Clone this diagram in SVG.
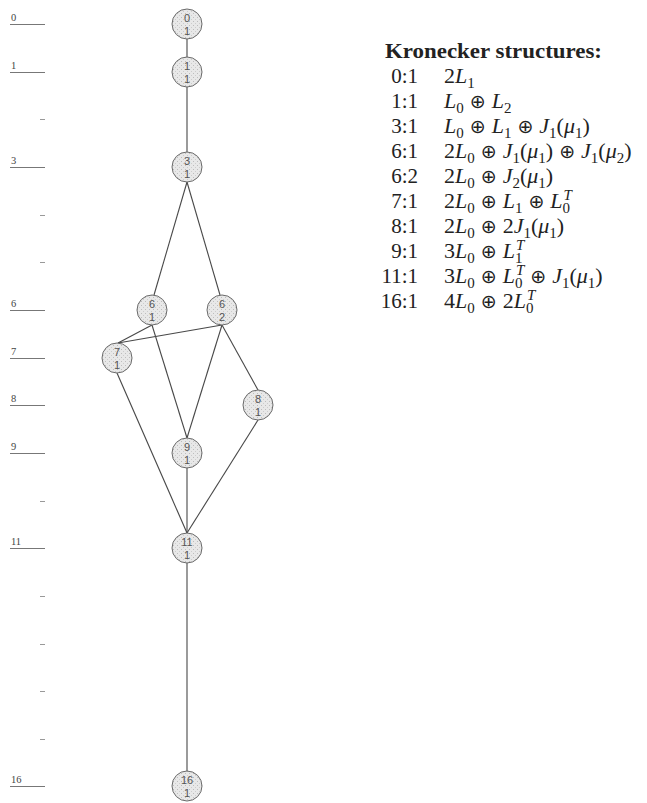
<svg xmlns="http://www.w3.org/2000/svg" width="647" height="803" viewBox="0 0 647 803">
<defs>
<pattern id="stip" width="4" height="4" patternUnits="userSpaceOnUse">
<rect width="4" height="4" fill="#e8e8e8"/>
<rect x="1" y="1" width="1" height="1" fill="#bdbdbd"/>
<rect x="3" y="3" width="1" height="1" fill="#cccccc"/>
</pattern>
<style>
.nd circle{fill:url(#stip);stroke:#6a6a6a;stroke-width:1}
.nd text{font-family:"Liberation Sans",Arial,sans-serif;font-size:11px;fill:#555;text-anchor:middle}
.lv text{font-family:"Liberation Serif","Times New Roman",serif;font-size:10.5px;fill:#444}
.lv line{stroke:#777;stroke-width:1}
.tk line{stroke:#999;stroke-width:1}
.edges line{stroke:#484848;stroke-width:1.1}
.lg{font-family:"Liberation Serif","Times New Roman",serif;fill:#222}
.lg .t{font-weight:bold;font-size:21px}
.lg .k{text-anchor:end;font-size:21px}
.lg .f{font-size:22px}
.i{font-style:italic}
.s{font-size:15px}
.o{font-family:"DejaVu Sans",sans-serif;font-size:19px}
</style>
</defs>
<rect width="647" height="803" fill="#fff"/>
<g id="levels" class="lv">
<text x="11" y="21">0</text><line x1="10" y1="24.5" x2="45" y2="24.5"/>
<text x="11" y="69">1</text><line x1="10" y1="72.5" x2="45" y2="72.5"/>
<text x="11" y="164">3</text><line x1="10" y1="167.5" x2="45" y2="167.5"/>
<text x="11" y="307">6</text><line x1="10" y1="310.5" x2="45" y2="310.5"/>
<text x="11" y="355">7</text><line x1="10" y1="358.5" x2="45" y2="358.5"/>
<text x="11" y="402">8</text><line x1="10" y1="405.5" x2="45" y2="405.5"/>
<text x="11" y="450">9</text><line x1="10" y1="453.5" x2="45" y2="453.5"/>
<text x="11" y="545">11</text><line x1="10" y1="548.5" x2="45" y2="548.5"/>
<text x="11" y="783">16</text><line x1="10" y1="786.5" x2="45" y2="786.5"/>
</g>
<g id="ticks" class="tk">
<line x1="40" y1="119.5" x2="45" y2="119.5"/>
<line x1="40" y1="215.5" x2="45" y2="215.5"/>
<line x1="40" y1="262.5" x2="45" y2="262.5"/>
<line x1="40" y1="501.5" x2="45" y2="501.5"/>
<line x1="40" y1="596.5" x2="45" y2="596.5"/>
<line x1="40" y1="644.5" x2="45" y2="644.5"/>
<line x1="40" y1="691.5" x2="45" y2="691.5"/>
<line x1="40" y1="739.5" x2="45" y2="739.5"/>
</g>
<g id="connectors" class="edges">
<line x1="187" y1="39" x2="187" y2="57"/>
<line x1="187" y1="87" x2="187" y2="152"/>
<line x1="187" y1="182" x2="154" y2="295"/>
<line x1="187" y1="182" x2="220" y2="295"/>
<line x1="152" y1="325" x2="118" y2="343"/>
<line x1="222" y1="325" x2="118" y2="343"/>
<line x1="152" y1="325" x2="187" y2="438"/>
<line x1="222" y1="325" x2="187" y2="438"/>
<line x1="222" y1="325" x2="258" y2="390"/>
<line x1="117" y1="373" x2="187" y2="533"/>
<line x1="187" y1="468" x2="187" y2="533"/>
<line x1="258" y1="420" x2="187" y2="533"/>
<line x1="187" y1="563" x2="187" y2="771"/>
</g>
<g id="n0_1" class="nd"><circle cx="187" cy="24" r="15"/><text x="187" y="21.5">0</text><text x="187" y="34.5">1</text></g>
<g id="n1_1" class="nd"><circle cx="187" cy="72" r="15"/><text x="187" y="69.5">1</text><text x="187" y="82.5">1</text></g>
<g id="n3_1" class="nd"><circle cx="187" cy="167" r="15"/><text x="187" y="164.5">3</text><text x="187" y="177.5">1</text></g>
<g id="n6_1" class="nd"><circle cx="152" cy="310" r="15"/><text x="152" y="307.5">6</text><text x="152" y="320.5">1</text></g>
<g id="n6_2" class="nd"><circle cx="222" cy="310" r="15"/><text x="222" y="307.5">6</text><text x="222" y="320.5">2</text></g>
<g id="n7_1" class="nd"><circle cx="117" cy="358" r="15"/><text x="117" y="355.5">7</text><text x="117" y="368.5">1</text></g>
<g id="n8_1" class="nd"><circle cx="258" cy="405" r="15"/><text x="258" y="402.5">8</text><text x="258" y="415.5">1</text></g>
<g id="n9_1" class="nd"><circle cx="187" cy="453" r="15"/><text x="187" y="450.5">9</text><text x="187" y="463.5">1</text></g>
<g id="n11_1" class="nd"><circle cx="187" cy="548" r="15"/><text x="187" y="545.5">11</text><text x="187" y="558.5">1</text></g>
<g id="n16_1" class="nd"><circle cx="187" cy="786" r="15"/><text x="187" y="783.5">16</text><text x="187" y="796.5">1</text></g>
<g id="legend" class="lg">
<text class="t" x="385" y="58" textLength="217" lengthAdjust="spacingAndGlyphs">Kronecker structures:</text>
<text class="k" x="418" y="83">0:1</text>
<text class="f" x="444" y="83">2<tspan class="i">L</tspan><tspan class="s" dy="4.5">1</tspan></text>
<text class="k" x="418" y="108">1:1</text>
<text class="f" x="444" y="108"><tspan class="i">L</tspan><tspan class="s" dy="4.5">0</tspan><tspan class="o" dx="6" dy="-4.5">⊕</tspan><tspan class="i" dx="6">L</tspan><tspan class="s" dy="4.5">2</tspan></text>
<text class="k" x="418" y="133">3:1</text>
<text class="f" x="444" y="133"><tspan class="i">L</tspan><tspan class="s" dy="4.5">0</tspan><tspan class="o" dx="6" dy="-4.5">⊕</tspan><tspan class="i" dx="6">L</tspan><tspan class="s" dy="4.5">1</tspan><tspan class="o" dx="6" dy="-4.5">⊕</tspan><tspan class="i" dx="6">J</tspan><tspan class="s" dy="4.5">1</tspan><tspan dy="-4.5">(</tspan><tspan class="i">μ</tspan><tspan class="s" dy="4.5">1</tspan><tspan dy="-4.5">)</tspan></text>
<text class="k" x="418" y="158">6:1</text>
<text class="f" x="444" y="158">2<tspan class="i">L</tspan><tspan class="s" dy="4.5">0</tspan><tspan class="o" dx="6" dy="-4.5">⊕</tspan><tspan class="i" dx="6">J</tspan><tspan class="s" dy="4.5">1</tspan><tspan dy="-4.5">(</tspan><tspan class="i">μ</tspan><tspan class="s" dy="4.5">1</tspan><tspan dy="-4.5">)</tspan><tspan class="o" dx="6">⊕</tspan><tspan class="i" dx="6">J</tspan><tspan class="s" dy="4.5">1</tspan><tspan dy="-4.5">(</tspan><tspan class="i">μ</tspan><tspan class="s" dy="4.5">2</tspan><tspan dy="-4.5">)</tspan></text>
<text class="k" x="418" y="183">6:2</text>
<text class="f" x="444" y="183">2<tspan class="i">L</tspan><tspan class="s" dy="4.5">0</tspan><tspan class="o" dx="6" dy="-4.5">⊕</tspan><tspan class="i" dx="6">J</tspan><tspan class="s" dy="4.5">2</tspan><tspan dy="-4.5">(</tspan><tspan class="i">μ</tspan><tspan class="s" dy="4.5">1</tspan><tspan dy="-4.5">)</tspan></text>
<text class="k" x="418" y="208">7:1</text>
<text class="f" x="444" y="208">2<tspan class="i">L</tspan><tspan class="s" dy="4.5">0</tspan><tspan class="o" dx="6" dy="-4.5">⊕</tspan><tspan class="i" dx="6">L</tspan><tspan class="s" dy="4.5">1</tspan><tspan class="o" dx="6" dy="-4.5">⊕</tspan><tspan class="i" dx="6">L</tspan><tspan class="s" dy="4.5">0</tspan><tspan class="s i" dx="-6.5" dy="-13">T</tspan></text>
<text class="k" x="418" y="233">8:1</text>
<text class="f" x="444" y="233">2<tspan class="i">L</tspan><tspan class="s" dy="4.5">0</tspan><tspan class="o" dx="6" dy="-4.5">⊕</tspan><tspan dx="6">2</tspan><tspan class="i">J</tspan><tspan class="s" dy="4.5">1</tspan><tspan dy="-4.5">(</tspan><tspan class="i">μ</tspan><tspan class="s" dy="4.5">1</tspan><tspan dy="-4.5">)</tspan></text>
<text class="k" x="418" y="258">9:1</text>
<text class="f" x="444" y="258">3<tspan class="i">L</tspan><tspan class="s" dy="4.5">0</tspan><tspan class="o" dx="6" dy="-4.5">⊕</tspan><tspan class="i" dx="6">L</tspan><tspan class="s" dy="4.5">1</tspan><tspan class="s i" dx="-6.5" dy="-13">T</tspan></text>
<text class="k" x="418" y="283">11:1</text>
<text class="f" x="444" y="283">3<tspan class="i">L</tspan><tspan class="s" dy="4.5">0</tspan><tspan class="o" dx="6" dy="-4.5">⊕</tspan><tspan class="i" dx="6">L</tspan><tspan class="s" dy="4.5">0</tspan><tspan class="s i" dx="-6.5" dy="-13">T</tspan><tspan class="o" dx="6" dy="8.5">⊕</tspan><tspan class="i" dx="6">J</tspan><tspan class="s" dy="4.5">1</tspan><tspan dy="-4.5">(</tspan><tspan class="i">μ</tspan><tspan class="s" dy="4.5">1</tspan><tspan dy="-4.5">)</tspan></text>
<text class="k" x="418" y="308">16:1</text>
<text class="f" x="444" y="308">4<tspan class="i">L</tspan><tspan class="s" dy="4.5">0</tspan><tspan class="o" dx="6" dy="-4.5">⊕</tspan><tspan dx="6">2</tspan><tspan class="i">L</tspan><tspan class="s" dy="4.5">0</tspan><tspan class="s i" dx="-6.5" dy="-13">T</tspan></text>
</g>
</svg>
